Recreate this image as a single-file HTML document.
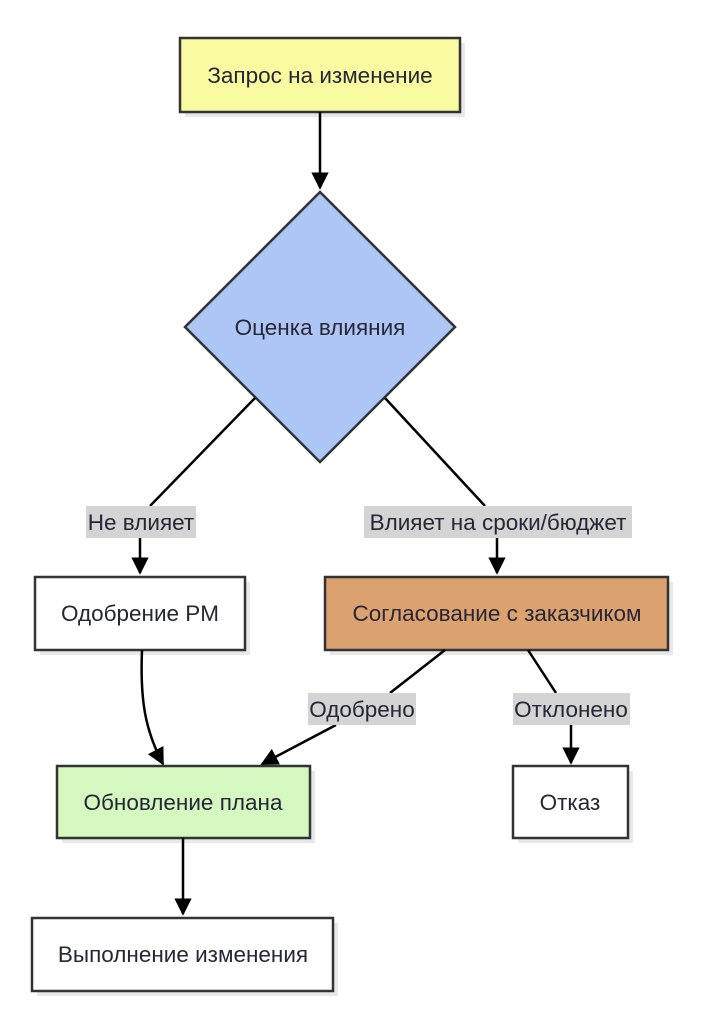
<!DOCTYPE html>
<html><head><meta charset="utf-8"><style>
html,body{margin:0;padding:0;background:#fff;width:706px;height:1024px;overflow:hidden}
svg text{font-family:"Liberation Sans","DejaVu Sans",sans-serif;font-size:22.5px;fill:#262636}
</style></head><body>
<svg width="706" height="1024" viewBox="0 0 706 1024" xmlns="http://www.w3.org/2000/svg">
<defs>
<marker id="a" viewBox="0 0 10 10" refX="9" refY="5" markerWidth="7" markerHeight="7" orient="auto-start-reverse" markerUnits="strokeWidth">
<path d="M0,0 L10,5 L0,10 z" fill="#000"/></marker>
</defs>
<g fill="#e8e8e8">
<rect x="185" y="43" width="280" height="74"/>
<rect x="40" y="582" width="210" height="73"/>
<rect x="330" y="582" width="343" height="73"/>
<rect x="62" y="771" width="253" height="72"/>
<rect x="518" y="771" width="115" height="72"/>
<rect x="37" y="923" width="301" height="73"/>
</g>
<g stroke="#333" stroke-width="2.5">
<rect x="180" y="38" width="280" height="74" fill="#fafaa0"/>
<polygon points="320,192 455,327 320,462 185,327" fill="#aec6f6"/>
<rect x="35" y="577" width="210" height="73" fill="#fff"/>
<rect x="325" y="577" width="343" height="73" fill="#dba270"/>
<rect x="57" y="766" width="253" height="72" fill="#d5f8c0"/>
<rect x="513" y="766" width="115" height="72" fill="#fff"/>
<rect x="32" y="918" width="301" height="73" fill="#fff"/>
</g>
<g stroke="#000" stroke-width="2.5" fill="none">
<line x1="320" y1="112" x2="320" y2="188" marker-end="url(#a)"/>
<line x1="255" y1="398" x2="150" y2="506"/>
<line x1="140" y1="538" x2="140" y2="573" marker-end="url(#a)"/>
<line x1="385" y1="398" x2="485" y2="506"/>
<line x1="497" y1="538" x2="497" y2="573" marker-end="url(#a)"/>
<line x1="445" y1="650" x2="390" y2="693"/>
<line x1="336" y1="725" x2="262" y2="764" marker-end="url(#a)"/>
<line x1="528" y1="650" x2="556" y2="693"/>
<line x1="571" y1="725" x2="571" y2="763" marker-end="url(#a)"/>
<path d="M142,650 C140,700 145,730 163,764" marker-end="url(#a)"/>
<line x1="183" y1="838" x2="183" y2="914" marker-end="url(#a)"/>
</g>
<g fill="#d4d4d4">
<rect x="86" y="506" width="110" height="32"/>
<rect x="364" y="506" width="268" height="32"/>
<rect x="308" y="693" width="108" height="32"/>
<rect x="513" y="693" width="117" height="32"/>
</g>
<g text-anchor="middle">
<text x="320" y="83">Запрос на изменение</text>
<text x="320" y="335">Оценка влияния</text>
<text x="141" y="530">Не влияет</text>
<text x="498" y="530">Влияет на сроки/бюджет</text>
<text x="140" y="621">Одобрение PM</text>
<text x="497" y="621">Согласование с заказчиком</text>
<text x="362" y="717">Одобрено</text>
<text x="571" y="717">Отклонено</text>
<text x="183" y="810">Обновление плана</text>
<text x="570" y="810">Отказ</text>
<text x="183" y="962">Выполнение изменения</text>
</g>
</svg>
</body></html>
